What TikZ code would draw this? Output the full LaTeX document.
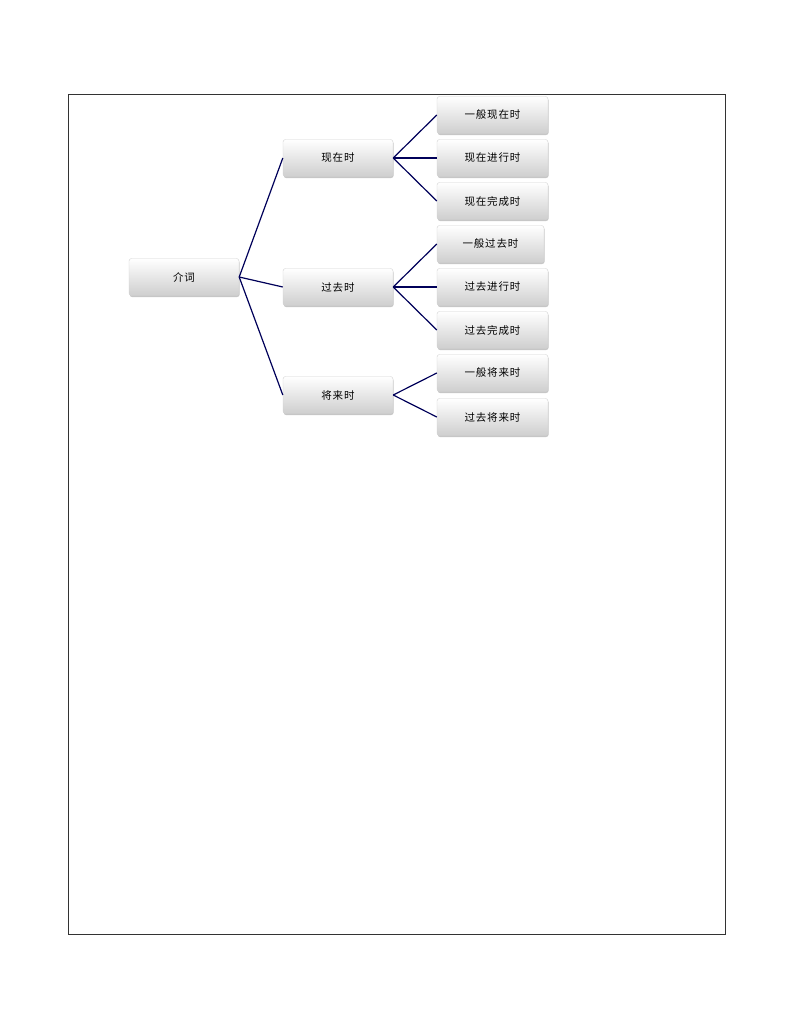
\documentclass[tikz,border=0pt]{standalone}
\usepackage{fontspec}
\newfontfamily\cjk[LetterSpace=8]{Noto Sans CJK SC}
\usetikzlibrary{positioning,shadows}

\begin{document}
\begin{tikzpicture}[
    x=1pt, y=-1pt,
    box/.style={rectangle, rounded corners=2.5pt, draw=gray!35, top color=white, bottom color=gray!38,
        drop shadow={shadow xshift=0.6pt, shadow yshift=-1.5pt, opacity=0.45},
        minimum width=110pt, minimum height=37pt, align=center, font=\cjk\fontsize{10.5}{12}\selectfont},
    link/.style={draw=blue!35!black, line width=1.2pt}
]
    \useasboundingbox (0,0) rectangle (794,1028);
    % Frame
    \draw[black!80, line width=0.9pt] (68,94) rectangle (725,934);

    % Root
    \node[box] (root) at (184,277) {介词};

    % Tenses
    \node[box] (present) at (338,158) {现在时};
    \node[box] (past) at (338,287) {过去时};
    \node[box] (future) at (338,395) {将来时};

    % Present leaves
    \node[box, minimum width=111pt] (p1) at (492.5,115) {一般现在时};
    \node[box, minimum width=111pt] (p2) at (492.5,158) {现在进行时};
    \node[box, minimum width=111pt] (p3) at (492.5,201) {现在完成时};

    % Past leaves
    \node[box, minimum width=107pt] (q1) at (490.5,244) {一般过去时};
    \node[box, minimum width=111pt] (q2) at (492.5,287) {过去进行时};
    \node[box, minimum width=111pt] (q3) at (492.5,330) {过去完成时};

    % Future leaves
    \node[box, minimum width=111pt] (f1) at (492.5,373) {一般将来时};
    \node[box, minimum width=111pt] (f2) at (492.5,417) {过去将来时};

    % Links
    \path[link] (root.east) -- (present.west);
    \path[link] (root.east) -- (past.west);
    \path[link] (root.east) -- (future.west);
    \foreach \leaf in {p1,p2,p3}
        \path[link] (present.east) -- (\leaf.west);
    \foreach \leaf in {q1,q2,q3}
        \path[link] (past.east) -- (\leaf.west);
    \foreach \leaf in {f1,f2}
        \path[link] (future.east) -- (\leaf.west);
\end{tikzpicture}
\end{document}
